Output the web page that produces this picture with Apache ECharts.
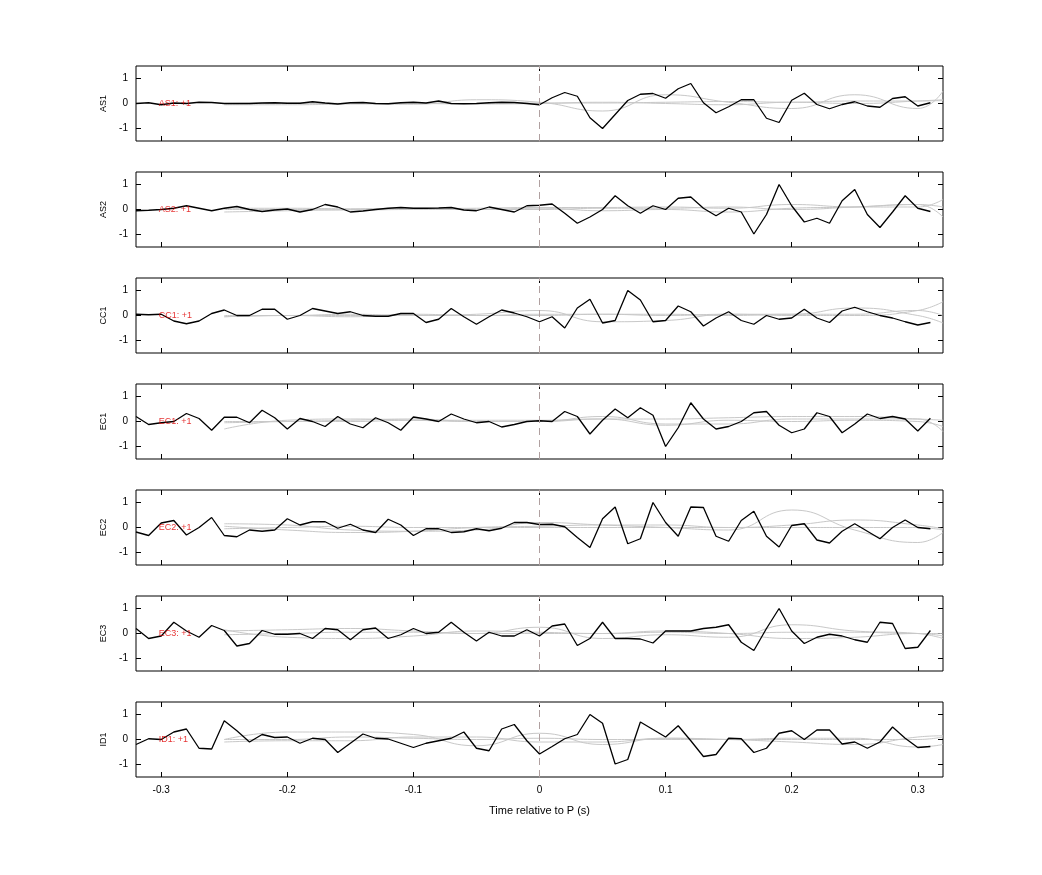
<!DOCTYPE html>
<html><head><meta charset="utf-8">
<script src="https://cdn.jsdelivr.net/npm/echarts@6/dist/echarts.min.js"></script>
<style>html,body{margin:0;padding:0;background:#fff}#c{width:1042px;height:875px}</style>
</head><body><div id="c"></div>
<script>
const channels = ["AS1","AS2","CC1","EC1","EC2","EC3","ID1"];
const tickLabelsX = ["-0.3","-0.2","-0.1","0","0.1","0.2","0.3"];
const times = []; for (let i=0;i<64;i++) times.push(+(-0.32+0.01*i).toFixed(2));
const AS1 = [0,0.03,-0.05,0.02,0,0.05,0.04,0,0,0,0.02,0.03,0.01,0.01,0.07,0.02,-0.02,0.03,0.04,0,-0.01,0.03,0.05,0.02,0.1,0,-0.01,0,0.03,0.05,0.04,0,
 -0.05,0.23,0.44,0.29,-0.57,-1.0,-0.44,0.12,0.37,0.4,0.21,0.59,0.8,0.03,-0.37,-0.13,0.15,0.15,-0.59,-0.76,0.13,0.41,-0.04,-0.21,-0.04,0.07,-0.1,-0.15,0.2,0.27,-0.1,0.03];
const AS2 = [-0.05,-0.03,0,0.05,0.15,0.05,-0.05,0.05,0.12,0,-0.08,-0.02,0.02,-0.1,0,0.2,0.1,-0.1,-0.06,0,0.05,0.08,0.05,0.05,0.06,0.08,-0.02,-0.05,0.1,0,-0.1,0.15,
 0.17,0.22,-0.15,-0.55,-0.3,0,0.55,0.15,-0.15,0.15,0,0.45,0.5,0.05,-0.25,0.05,-0.1,-0.98,-0.2,1.0,0.15,-0.5,-0.35,-0.55,0.35,0.8,-0.2,-0.72,-0.1,0.55,0.05,-0.08];
const CC1 = [0.05,0.03,0.05,-0.22,-0.33,-0.22,0.08,0.22,0,0,0.25,0.25,-0.15,0,0.28,0.18,0.08,0.15,0,-0.03,-0.03,0.08,0.08,-0.28,-0.15,0.28,-0.05,-0.35,-0.05,0.22,0.1,-0.05,
 -0.25,-0.05,-0.5,0.3,0.65,-0.3,-0.2,1.0,0.62,-0.25,-0.2,0.38,0.15,-0.42,-0.1,0.15,-0.2,-0.35,0,-0.15,-0.1,0.25,-0.1,-0.28,0.18,0.33,0.15,0,-0.1,-0.25,-0.38,-0.28];
const EC1 = [0.2,-0.12,-0.05,0,0.32,0.12,-0.35,0.17,0.17,-0.05,0.45,0.15,-0.3,0.12,0,-0.2,0.2,-0.1,-0.25,0.15,-0.05,-0.35,0.18,0.1,0,0.3,0.1,-0.05,0,-0.22,-0.12,0,
 0.03,0,0.4,0.2,-0.5,0.05,0.5,0.15,0.55,0.25,-1.0,-0.25,0.75,0.1,-0.3,-0.2,0,0.35,0.4,-0.15,-0.45,-0.3,0.35,0.2,-0.45,-0.1,0.3,0.12,0.2,0.1,-0.38,0.13];
const EC2 = [-0.18,-0.32,0.18,0.28,-0.3,0,0.4,-0.32,-0.37,-0.1,-0.15,-0.1,0.35,0.1,0.23,0.23,-0.03,0.13,-0.1,-0.2,0.33,0.1,-0.32,-0.05,-0.05,-0.2,-0.17,-0.05,-0.13,-0.03,0.2,0.2,
 0.12,0.13,0.03,-0.4,-0.8,0.35,0.82,-0.65,-0.45,1.0,0.2,-0.35,0.82,0.8,-0.35,-0.55,0.28,0.65,-0.35,-0.78,0.08,0.15,-0.5,-0.62,-0.15,0.15,-0.15,-0.45,0,0.3,0,-0.05];
const EC3 = [0.2,-0.2,-0.1,0.45,0.1,-0.15,0.32,0.12,-0.5,-0.4,0.12,-0.03,-0.03,0,-0.2,0.2,0.15,-0.25,0.15,0.22,-0.2,-0.05,0.2,0,0.05,0.45,0.05,-0.3,0.05,-0.1,-0.1,0.15,
 -0.1,0.3,0.38,-0.48,-0.2,0.45,-0.2,-0.2,-0.22,-0.38,0.1,0.1,0.1,0.2,0.25,0.35,-0.35,-0.68,0.2,1.0,0.1,-0.4,-0.15,-0.03,-0.1,-0.25,-0.35,0.45,0.4,-0.6,-0.55,0.12];
const ID1 = [-0.2,0.03,0,0.3,0.42,-0.35,-0.38,0.75,0.35,-0.1,0.2,0.08,0.1,-0.15,0.05,0,-0.52,-0.15,0.22,0.05,0.02,-0.15,-0.32,-0.15,-0.05,0.05,0.3,-0.35,-0.45,0.42,0.6,-0.05,
 -0.58,-0.28,0.03,0.2,1.0,0.65,-0.98,-0.8,0.7,0.4,0.1,0.55,-0.05,-0.68,-0.6,0.05,0.03,-0.52,-0.35,0.25,0.35,0,0.38,0.38,-0.18,-0.1,-0.35,-0.1,0.5,0.05,-0.32,-0.28];
const blackSeries = [AS1,AS2,CC1,EC1,EC2,EC3,ID1];
const grayT = [-0.25,-0.2,-0.15,-0.1,-0.05,0,0.05,0.1,0.15,0.2,0.25,0.3,0.32];
const grayAS1 = [[0,0.02,0,-0.03,0.15,0.05,-0.3,0.35,0.05,-0.2,0.35,-0.2,0.5],[0,0,0,0,0,0.02,0.02,0.05,0.08,0.05,0.1,0.1,0.12],[-0.05,-0.05,-0.02,0,-0.02,0,0.05,0,-0.05,0.05,0,0.1,0.15]];
const grayAS2 = [[-0.1,-0.05,0,0.03,0.05,0.08,0.08,0.1,0.05,0.2,0.1,0.1,0.4],[0,0,-0.02,0,0,0.05,-0.05,0,-0.1,0.05,0.1,0.2,-0.3],[0.05,0.05,0.03,0.05,0,0,0.05,0.05,0.1,0,0.1,0.2,0.1]];
const grayCC1 = [[-0.05,0,0,0,0.05,0.2,-0.25,-0.2,0.05,0,0,0.2,0.55],[0,0,0.05,0,0,0.05,0.05,0.05,0,0.05,0.05,0.2,0],[-0.05,0,-0.05,0.05,0,0,0.05,0,0.05,0.05,0.3,0,-0.3]];
const grayEC1 = [[-0.3,0.05,0.1,0.05,0,0,0.2,-0.1,-0.1,0.1,0.1,0.1,-0.4],[0,0,0,0.05,0.05,0.05,0.1,-0.15,0.05,0,0.05,0,-0.2],[-0.05,0,0.05,0.1,0,0,0.1,0.1,0.15,0.2,0.2,0.1,0.05]];
const grayEC2 = [[0.15,0.1,-0.1,-0.15,-0.1,0.2,0.1,0.0,-0.1,0.7,-0.1,-0.6,-0.2],[0.05,-0.1,-0.2,-0.15,0,0.05,0.1,0.1,0,0.1,0.3,0.1,-0.05],[-0.05,0,0.05,0,0,0,0,0,0,0,0,0,-0.1]];
const grayEC3 = [[0.1,0.15,0.2,0.1,0.0,0.25,-0.2,-0.05,-0.15,0.35,0.1,0,-0.2],[0.15,-0.15,-0.2,-0.1,0.1,0.05,0,0.1,0,-0.2,-0.15,0,-0.1],[-0.05,0,0.05,0.05,0,0,0,0.05,0,0.05,0.05,0,0]];
const grayID1 = [[0,0.3,0.3,0.2,-0.25,0.25,-0.2,0.05,0,-0.1,-0.2,0.1,0.15],[0,0,0.1,0.05,0,0.05,0,0,0,0,0,0,0.1],[-0.1,-0.05,-0.05,0.1,0.1,-0.1,-0.1,0.05,0,0.05,0.05,-0.3,-0.2]];
const graySeries = [grayAS1,grayAS2,grayCC1,grayEC1,grayEC2,grayEC3,grayID1];
const yTicks = [-1,0,1];
const xTicks = [-0.3,-0.2,-0.1,0,0.1,0.2,0.3];

const tops = [66,172,278,384,490,596,702];
const grid=[],xAxis=[],yAxis=[],series=[];
const noLine = {show:false,onZero:false};
channels.forEach((ch,k)=>{
  grid.push({left:136,width:807,top:tops[k],height:75,show:true,borderColor:'#000',borderWidth:1,containLabel:false});
  const last = k===channels.length-1;
  const xa = {type:'value',gridIndex:k,position:'bottom',min:-0.32,max:0.32,
    axisLine:noLine,axisTick:{inside:true,length:5,lineStyle:{color:'#000'},customValues:xTicks},
    splitLine:{show:false},
    axisLabel:{show:last,color:'#000',fontSize:10,fontFamily:'Liberation Sans',customValues:xTicks,formatter:v=>tickLabelsX[Math.round(v*10)+3]}};
  if(last){xa.name='Time relative to P (s)';xa.nameLocation='middle';xa.nameGap=28;xa.nameTextStyle={color:'#000',fontSize:11,fontFamily:'Liberation Sans'};}
  xAxis.push(xa);
  xAxis.push({type:'value',gridIndex:k,position:'top',min:-0.32,max:0.32,axisLine:noLine,
    axisTick:{inside:true,length:5,lineStyle:{color:'#000'},customValues:xTicks},axisLabel:{show:false},splitLine:{show:false}});
  yAxis.push({type:'value',gridIndex:k,position:'left',min:-1.5,max:1.5,name:ch,nameLocation:'middle',nameGap:28,nameRotate:90,
    nameTextStyle:{color:'#000',fontSize:9,fontFamily:'Liberation Sans'},
    axisLine:noLine,axisTick:{inside:true,length:5,lineStyle:{color:'#000'},customValues:yTicks},
    axisLabel:{color:'#000',fontSize:10,fontFamily:'Liberation Sans',customValues:yTicks},splitLine:{show:false}});
  yAxis.push({type:'value',gridIndex:k,position:'right',min:-1.5,max:1.5,axisLine:noLine,
    axisTick:{inside:true,length:5,lineStyle:{color:'#000'},customValues:yTicks},axisLabel:{show:false},splitLine:{show:false}});
  graySeries[k].forEach(g=>{
    series.push({type:'line',xAxisIndex:2*k,yAxisIndex:2*k,data:grayT.map((t,i)=>[t,g[i]]),smooth:0.5,showSymbol:false,
      lineStyle:{color:'#c8c8c8',width:1},z:1,silent:true});
  });
  series.push({type:'line',xAxisIndex:2*k,yAxisIndex:2*k,data:times.map((t,i)=>[t,blackSeries[k][i]]),showSymbol:false,
    lineStyle:{color:'#000',width:1.3},z:3,silent:true,
    markLine:{symbol:'none',silent:true,label:{show:false},lineStyle:{color:'#b0a0a0',type:[7,5],width:1},data:[{xAxis:0}]}});
  series.push({type:'scatter',xAxisIndex:2*k,yAxisIndex:2*k,data:[[-0.302,0]],symbolSize:0,z:4,silent:true,
    label:{show:true,position:'right',distance:0,formatter:ch+': +1',color:'#e00000',fontSize:9,fontFamily:'Liberation Sans'}});
});
const chart = echarts.init(document.getElementById('c'));
chart.setOption({animation:false,backgroundColor:'#fff',grid,xAxis,yAxis,series});
</script></body></html>
